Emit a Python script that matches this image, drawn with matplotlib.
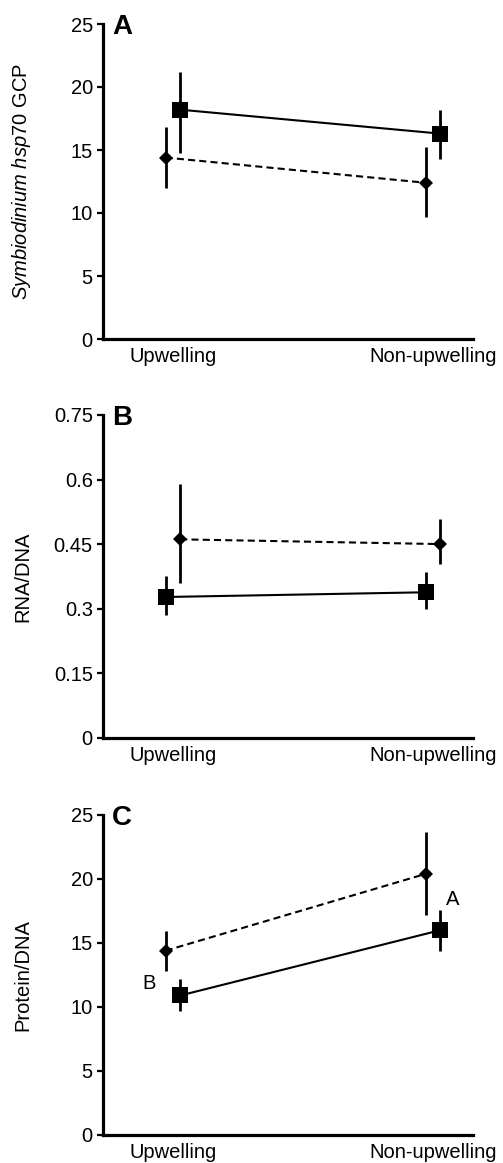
import numpy as np
import matplotlib
matplotlib.use("Agg")
import matplotlib.pyplot as plt

plt.rcParams['font.family'] = ['Liberation Sans', 'DejaVu Sans']
plt.rcParams['mathtext.fontset'] = 'custom'
plt.rcParams['mathtext.rm'] = 'Liberation Sans'
plt.rcParams['mathtext.it'] = 'Liberation Sans:italic'

categories = ["Upwelling", "Non-upwelling"]

# panel A: Symbiodinium hsp70 GCP
a_square = [18.2, 16.3]
a_square_lo = [14.8, 14.3]
a_square_hi = [21.2, 18.2]
a_diamond = [14.4, 12.4]
a_diamond_lo = [12.0, 9.7]
a_diamond_hi = [16.8, 15.2]

# panel B: RNA/DNA
b_square = [0.327, 0.338]
b_square_lo = [0.285, 0.299]
b_square_hi = [0.376, 0.385]
b_diamond = [0.461, 0.450]
b_diamond_lo = [0.360, 0.404]
b_diamond_hi = [0.589, 0.508]

# panel C: Protein/DNA
c_square = [10.9, 16.0]
c_square_lo = [9.7, 14.4]
c_square_hi = [12.2, 17.6]
c_diamond = [14.4, 20.4]
c_diamond_lo = [12.8, 17.2]
c_diamond_hi = [15.9, 23.7]

W, H = 503, 1163
fig = plt.figure(figsize=(W / 100, H / 100), dpi=100)

FS = 14.5
left = 103 / W
width = 370 / W
boxes = [(24, 339), (415, 737.7), (815, 1135)]
axes = []
for top, bot in boxes:
    axes.append(fig.add_axes([left, 1 - bot / H, width, (bot - top) / H]))


def draw(ax, sq, sq_lo, sq_hi, di, di_lo, di_hi, sq_side):
    x = np.arange(len(categories))
    xs = x + 0.028 * sq_side
    xd = x - 0.028 * sq_side
    sq, di = np.array(sq), np.array(di)
    ax.plot(xs, sq, '-', color='black', lw=1.5, zorder=2)
    ax.plot(xd, di, '--', color='black', lw=1.5, dashes=(3.4, 2.0), zorder=2)
    ax.errorbar(xs, sq, yerr=[sq - np.array(sq_lo), np.array(sq_hi) - sq],
                fmt='none', ecolor='black', elinewidth=2.0, capsize=0, zorder=3)
    ax.errorbar(xd, di, yerr=[di - np.array(di_lo), np.array(di_hi) - di],
                fmt='none', ecolor='black', elinewidth=2.0, capsize=0, zorder=3)
    ax.plot(xs, sq, 's', color='black', ms=11, mew=0, zorder=4, ls='none')
    ax.plot(xd, di, 'D', color='black', ms=7.5, mew=0, zorder=4, ls='none')
    ax.set_xlim(-0.269, 1.154)
    ax.set_xticks(x)
    ax.set_xticklabels(categories)
    ax.tick_params(axis='x', length=0, pad=6, labelsize=FS)
    ax.tick_params(axis='y', length=4.3, width=1.6, pad=3, labelsize=FS)
    for s in ['top', 'right']:
        ax.spines[s].set_visible(False)
    for s in ['left', 'bottom']:
        ax.spines[s].set_linewidth(2.3)
    ax.yaxis.set_label_coords(-0.19, 0.5)


draw(axes[0], a_square, a_square_lo, a_square_hi,
     a_diamond, a_diamond_lo, a_diamond_hi, 1)
axes[0].set_ylim(0, 25)
axes[0].set_yticks([0, 5, 10, 15, 20, 25])
axes[0].set_ylabel(r'$\mathit{Symbiodinium\ hsp70}$ GCP', fontsize=FS)

draw(axes[1], b_square, b_square_lo, b_square_hi,
     b_diamond, b_diamond_lo, b_diamond_hi, -1)
axes[1].set_ylim(0, 0.75)
axes[1].set_yticks([0, 0.15, 0.3, 0.45, 0.6, 0.75])
axes[1].set_yticklabels(['0', '0.15', '0.3', '0.45', '0.6', '0.75'])
axes[1].set_ylabel('RNA/DNA', fontsize=FS)

draw(axes[2], c_square, c_square_lo, c_square_hi,
     c_diamond, c_diamond_lo, c_diamond_hi, 1)
axes[2].set_ylim(0, 25)
axes[2].set_yticks([0, 5, 10, 15, 20, 25])
axes[2].set_ylabel('Protein/DNA', fontsize=FS)
axes[2].text(-0.092, 11.8, 'B', fontsize=FS, ha='center', va='center')
axes[2].text(1.077, 18.4, 'A', fontsize=FS, ha='center', va='center')

for ax, letter, (top, bot) in zip(axes, 'ABC', boxes):
    ax.text(0.025, 1 + 10 / (bot - top), letter, transform=ax.transAxes,
            fontsize=20, fontweight='bold', ha='left', va='top')

fig.savefig('out.png', dpi=100)
